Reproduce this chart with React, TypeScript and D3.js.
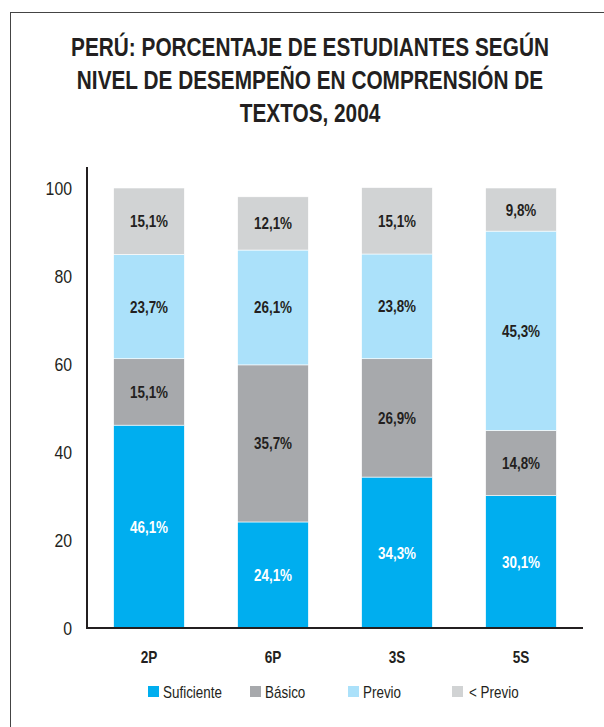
import React, { useEffect, useRef } from "react";
import * as d3 from "d3";

// data
const grades = ["2P", "6P", "3S", "5S"];
const levels = ["Suficiente", "Básico", "Previo", "< Previo"];
const suficiente = [46.1, 24.1, 34.3, 30.1];
const basico = [15.1, 35.7, 26.9, 14.8];
const previo = [23.7, 26.1, 23.8, 45.3];
const menosPrevio = [15.1, 12.1, 15.1, 9.8];
const yTicks = [0, 20, 40, 60, 80, 100];
const titleLines = [
  "PERÚ: PORCENTAJE DE ESTUDIANTES SEGÚN",
  "NIVEL DE DESEMPEÑO EN COMPRENSIÓN DE",
  "TEXTOS, 2004",
];

const colors = ["#00aeef", "#a7a9ac", "#abe1fa", "#d1d3d4"];
const FONT = "'Liberation Sans', Arial, sans-serif";
const INK = "#231f20";

// no condensed font installed, so squeeze the glyphs horizontally
function place(x: number, y: number, s: number) {
  return `translate(${x},${y}) scale(${s},1)`;
}

export default function App() {
  const ref = useRef<SVGSVGElement>(null);

  useEffect(() => {
    const svg = d3.select(ref.current);
    svg.selectAll("*").remove();

    // frame
    svg
      .append("rect")
      .attr("x", 10.5)
      .attr("y", 12.5)
      .attr("width", 700)
      .attr("height", 800)
      .attr("fill", "none")
      .attr("stroke", "#444")
      .attr("stroke-width", 1);

    // title
    svg
      .append("g")
      .selectAll("text")
      .data(titleLines)
      .enter()
      .append("text")
      .attr("transform", (d, i) => place(310, 56 + i * 33, 0.8))
      .attr("text-anchor", "middle")
      .style("font-family", FONT)
      .style("font-weight", "bold")
      .style("font-size", "26px")
      .attr("fill", INK)
      .text((d) => d);

    const x = d3
      .scaleBand()
      .domain(grades)
      .range([87, 583])
      .paddingInner(0.43)
      .paddingOuter(0.215);
    const y = d3.scaleLinear().domain([0, 100]).range([628, 188]);

    const rows = grades.map((g, i) => ({
      grade: g,
      "Suficiente": suficiente[i],
      "Básico": basico[i],
      "Previo": previo[i],
      "< Previo": menosPrevio[i],
    }));
    const series = d3.stack<any>().keys(levels)(rows);

    const layers = svg
      .selectAll("g.layer")
      .data(series)
      .enter()
      .append("g")
      .attr("class", "layer")
      .attr("fill", (d, i) => colors[i]);

    layers
      .selectAll("rect")
      .data((d) => d)
      .enter()
      .append("rect")
      .attr("x", (d: any) => x(d.data.grade)!)
      .attr("width", x.bandwidth())
      .attr("y", (d) => y(d[1]))
      .attr("height", (d) => y(d[0]) - y(d[1]))
      .attr("stroke", "#fff")
      .attr("stroke-width", 0.6);

    layers
      .selectAll("text")
      .data((d) => d.map((v) => ({ v, key: d.key })))
      .enter()
      .append("text")
      .attr("transform", (d: any) =>
        place(x(d.v.data.grade)! + x.bandwidth() / 2, (y(d.v[0]) + y(d.v[1])) / 2 + 6, 0.84)
      )
      .attr("text-anchor", "middle")
      .style("font-family", FONT)
      .style("font-weight", "bold")
      .style("font-size", "16px")
      .attr("fill", (d) => (d.key === "Suficiente" ? "#fff" : INK))
      .text((d: any) => (d.v.data[d.key] as number).toFixed(1).replace(".", ",") + "%");

    // axes
    svg
      .append("line")
      .attr("x1", 87)
      .attr("x2", 87)
      .attr("y1", 167)
      .attr("y2", 629)
      .attr("stroke", INK)
      .attr("stroke-width", 2);
    svg
      .append("line")
      .attr("x1", 86)
      .attr("x2", 583)
      .attr("y1", 628)
      .attr("y2", 628)
      .attr("stroke", INK)
      .attr("stroke-width", 2);

    svg
      .append("g")
      .selectAll("text")
      .data(yTicks)
      .enter()
      .append("text")
      .attr("transform", (d) => place(72, y(d) + 7, 0.88))
      .attr("text-anchor", "end")
      .style("font-family", FONT)
      .style("font-size", "18px")
      .attr("fill", INK)
      .text((d) => d);

    svg
      .append("g")
      .selectAll("text")
      .data(grades)
      .enter()
      .append("text")
      .attr("transform", (d) => place(x(d)! + x.bandwidth() / 2, 663, 0.85))
      .attr("text-anchor", "middle")
      .style("font-family", FONT)
      .style("font-weight", "bold")
      .style("font-size", "16px")
      .attr("fill", INK)
      .text((d) => d);

    // legend
    const legendX = [148, 250, 348, 452];
    const legend = svg
      .append("g")
      .selectAll("g")
      .data(levels)
      .enter()
      .append("g")
      .attr("transform", (d, i) => `translate(${legendX[i]},686)`);
    legend
      .append("rect")
      .attr("width", 11)
      .attr("height", 11)
      .attr("fill", (d, i) => colors[i]);
    legend
      .append("text")
      .attr("transform", (d, i) => place(i === 3 ? 17 : 15, 12, 0.84))
      .style("font-family", FONT)
      .style("font-size", "16px")
      .attr("fill", INK)
      .text((d) => d);
  }, []);

  return (
    <svg
      ref={ref}
      width={604}
      height={727}
      style={{ position: "absolute", left: 0, top: 0, background: "#fff" }}
    />
  );
}
